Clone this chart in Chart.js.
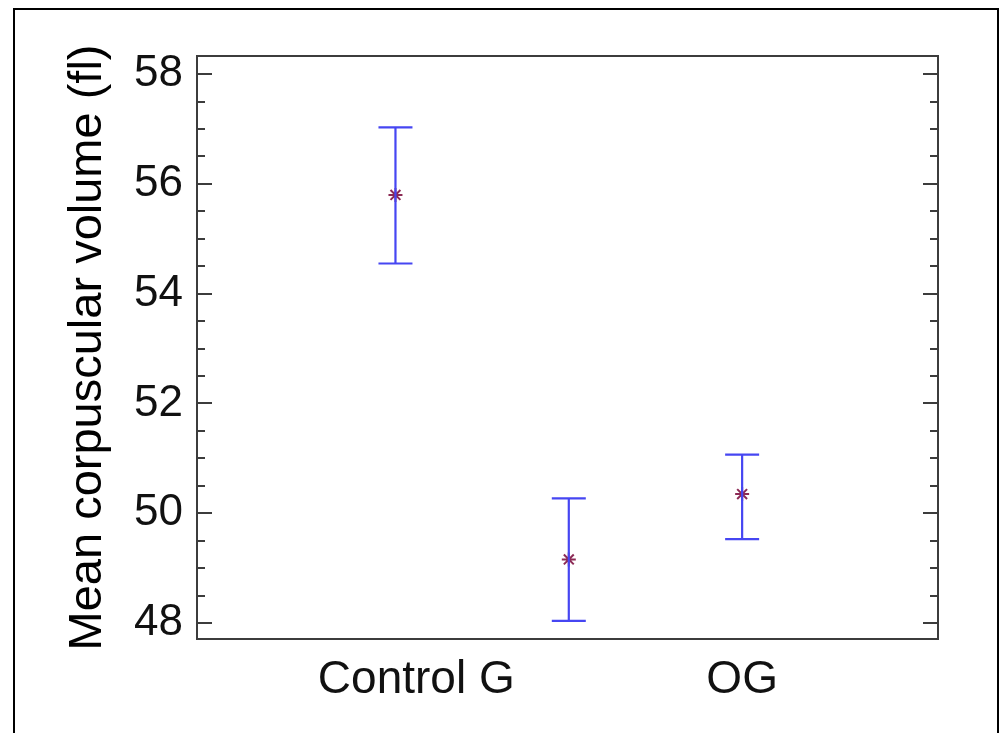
<!DOCTYPE html>
<html>
<head>
<meta charset="utf-8">
<script src="https://cdn.jsdelivr.net/npm/chart.js@4/dist/chart.umd.min.js"></script>
<style>
    html, body { margin: 0; padding: 0; background: #fff; overflow: hidden; }
    #wrap { position: relative; width: 1000px; height: 733px; }
    #frame { position: absolute; left: 13px; top: 8px; width: 982px; height: 760px; border: 2px solid #000; }
    canvas { position: absolute; left: 0; top: 0; }
</style>
</head>
<body>
<div id="wrap">
    <canvas id="myChart" width="1000" height="733"></canvas>
    <div id="frame"></div>
</div>
<script>
// groups (x position 1, 2, 3) - middle one has no readable label
const groups = ['Control G', '', 'OG'];
const means = [55.8, 49.16, 50.35];
const upper = [57.03, 50.27, 51.07];
const lower = [54.55, 48.04, 49.53];
const yTicks = [48, 50, 52, 54, 56, 58];

const barColor = '#4646f2';
const markColor = '#8c2a55';

// stems: low -> high per group, with gaps between
let stems = [];
let caps = [];
let marks = [];
for (let i = 0; i < groups.length; i++) {
    stems.push({ x: i + 1, y: lower[i] });
    stems.push({ x: i + 1, y: upper[i] });
    stems.push({ x: i + 1.5, y: null });
    caps.push({ x: i + 1, y: lower[i] });
    caps.push({ x: i + 1, y: upper[i] });
    marks.push({ x: i + 1, y: means[i] });
}

// inward ticks on left and right + plot frame
const frameTicks = {
    id: 'frameTicks',
    afterDraw(chart) {
        const ctx = chart.ctx;
        const a = chart.chartArea;
        const y = chart.scales.y;
        ctx.save();
        ctx.strokeStyle = '#3c3c3c';
        ctx.lineWidth = 2;
        for (let v = yTicks[0]; v <= yTicks[yTicks.length - 1]; v += 0.5) {
            const py = Math.round(y.getPixelForValue(v));
            const len = (v % 2 === 0) ? 15 : 8;
            ctx.beginPath();
            ctx.moveTo(a.left, py);
            ctx.lineTo(a.left + len, py);
            ctx.moveTo(a.right, py);
            ctx.lineTo(a.right - len, py);
            ctx.stroke();
        }
        ctx.strokeRect(a.left, a.top, a.right - a.left, a.bottom - a.top);
        ctx.restore();
    }
};

const ctx = document.getElementById('myChart').getContext('2d');
const myChart = new Chart(ctx, {
    type: 'scatter',
    data: {
        datasets: [{
            type: 'line',
            data: stems,
            showLine: true,
            spanGaps: false,
            borderColor: barColor,
            borderWidth: 2.2,
            pointRadius: 0
        }, {
            data: caps,
            pointStyle: 'line',
            pointRadius: 17,
            pointBorderWidth: 2.2,
            pointBorderColor: barColor,
            pointBackgroundColor: barColor
        }, {
            data: marks,
            pointStyle: 'star',
            pointRadius: 7,
            pointBorderWidth: 2,
            pointBorderColor: markColor,
            pointBackgroundColor: markColor
        }]
    },
    options: {
        responsive: false,
        animation: false,
        events: [],
        layout: { padding: { left: 60, right: 62, top: 56, bottom: 0 } },
        plugins: {
            legend: { display: false },
            tooltip: { enabled: false }
        },
        scales: {
            x: {
                type: 'linear',
                min: -0.145,
                max: 4.13,
                grid: { display: false, drawTicks: false },
                border: { display: false },
                afterBuildTicks: (scale) => {
                    scale.ticks = [{ value: 1.12 }, { value: 3 }];
                },
                ticks: {
                    autoSkip: false,
                    maxRotation: 0,
                    padding: 14,
                    color: '#111',
                    font: { family: 'Liberation Sans', size: 46 },
                    callback: (v) => v < 2 ? groups[0] : groups[2]
                },
                afterFit: (scale) => { scale.height = 94; }
            },
            y: {
                min: 47.71,
                max: 58.33,
                grid: { display: false, drawTicks: false },
                border: { display: false },
                afterBuildTicks: (scale) => {
                    scale.ticks = yTicks.map(v => ({ value: v }));
                },
                ticks: {
                    padding: 14,
                    color: '#111',
                    font: { family: 'Liberation Sans', size: 44 }
                },
                title: {
                    display: true,
                    text: 'Mean corpuscular volume (fl)',
                    color: '#000',
                    padding: { top: 0, bottom: 0 },
                    font: { family: 'Liberation Sans', size: 47 }
                },
                afterFit: (scale) => { scale.width = 137; }
            }
        }
    },
    plugins: [frameTicks]
});
</script>
</body>
</html>
